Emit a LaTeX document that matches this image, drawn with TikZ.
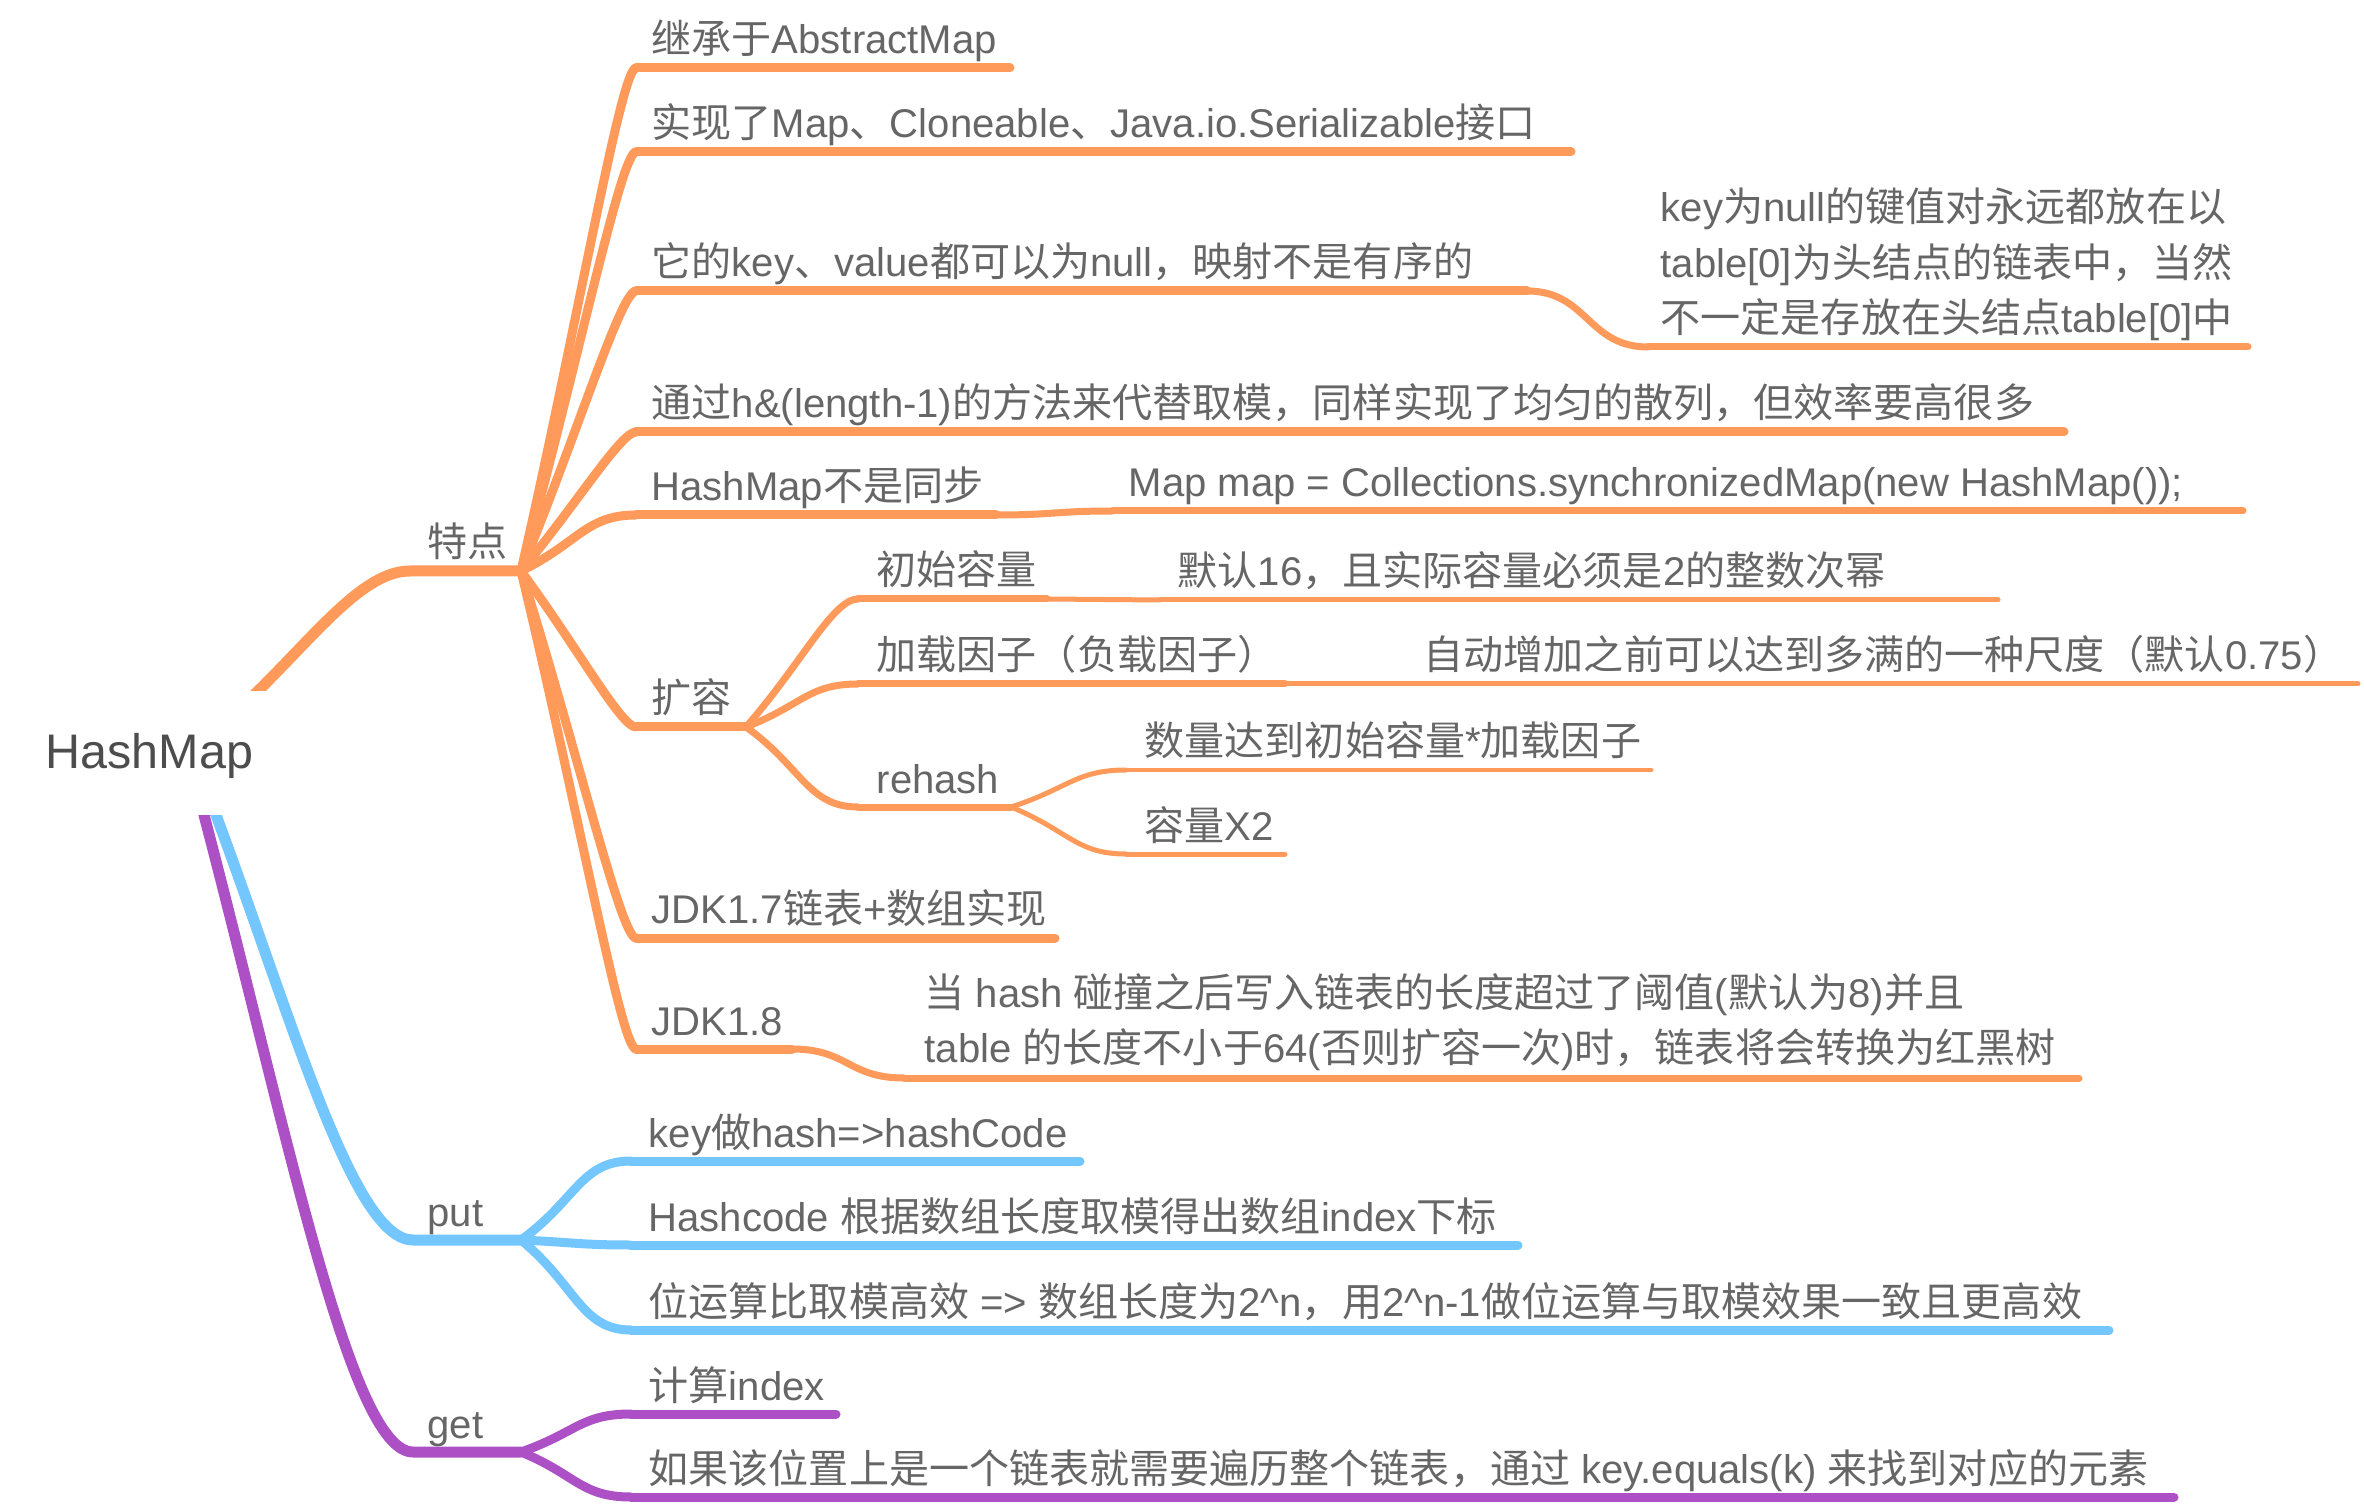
\documentclass[tikz,border=0pt]{standalone}
\usepackage{fontspec}
\setmainfont{Liberation Sans}
\newfontfamily\cjkf{Noto Sans CJK SC}
\usetikzlibrary{calc}
% switch to the CJK font automatically for CJK characters
\chardef\cjkcls=200
\count255="2E80
\loop\XeTeXcharclass\count255=\cjkcls\relax\advance\count255 by 1\relax\ifnum\count255<"A000 \repeat
\count255="FF00
\loop\XeTeXcharclass\count255=\cjkcls\relax\advance\count255 by 1\relax\ifnum\count255<"FFF0 \repeat
\newcount\tmpk
\tmpk=0
\loop\XeTeXinterchartoks\tmpk\cjkcls={\cjkf}\XeTeXinterchartoks\cjkcls\tmpk={\rmfamily}\advance\tmpk by 1\relax\ifnum\tmpk<20 \repeat
\XeTeXinterchartoks 4095 \cjkcls={\cjkf}
\XeTeXinterchartoks \cjkcls 4095={\rmfamily}
\XeTeXinterchartokenstate=1
\definecolor{oc}{HTML}{FF9A5B}
\definecolor{bc}{HTML}{73C6FE}
\definecolor{pc}{HTML}{AD50C5}
\definecolor{tx}{HTML}{666666}
\definecolor{rt}{HTML}{4D4D4D}
\newcommand\fanto[4][15]{\draw[#2] (#3) .. controls ($(#3)!0.5!(#4)$) and ($(#4)+(-#1,0)$) .. (#4);}
\newcommand\sconn[3]{\draw[#1] let \p1=(#2), \p2=(#3) in (#2) .. controls ({0.5*\x1+0.5*\x2},\y1) and ({0.5*\x1+0.5*\x2},\y2) .. (#3);}
\begin{document}
\begin{tikzpicture}[x=0.1mm,y=-0.1mm,
  txt/.style={anchor=base west, inner sep=0pt, text=tx, font=\fontsize{11.4}{13}\selectfont},
  L0/.style={line width=1.1mm, line cap=round},
  L1/.style={line width=0.9mm, line cap=round},
  L2/.style={line width=0.7mm, line cap=round},
  L3/.style={line width=0.5mm, line cap=round}]
\useasboundingbox (0,0) rectangle (2364,1506);
% ---------- coordinates ----------
\coordinate (ro) at (258,691);  \coordinate (rc1) at (410,571);  \coordinate (bp1) at (521,571);
\coordinate (rb) at (216,815);  \coordinate (rc2) at (413,1240); \coordinate (bp2) at (521,1240);
\coordinate (rp) at (204,815);  \coordinate (rc3) at (413,1452); \coordinate (bp3) at (521,1452);
\coordinate (s1) at (636,68);   \coordinate (e1) at (1010,68);
\coordinate (s2) at (636,152);  \coordinate (e2) at (1571,152);
\coordinate (s3) at (636,291);  \coordinate (e3) at (1527,291);
\coordinate (s3a) at (1648,347); \coordinate (e3a) at (2248,347);
\coordinate (s4) at (636,432);  \coordinate (e4) at (2064,432);
\coordinate (s5) at (636,515);  \coordinate (e5) at (996,515);
\coordinate (s5a) at (1113,511); \coordinate (e5a) at (2243,511);
\coordinate (s6) at (636,727);  \coordinate (bp6) at (746,727);
\coordinate (s61) at (858,599); \coordinate (e61) at (1047,599);
\coordinate (s61a) at (1160,600); \coordinate (e61a) at (1998,600);
\coordinate (s62) at (858,684); \coordinate (e62) at (1285,684);
\coordinate (s62a) at (1405,684); \coordinate (e62a) at (2358,684);
\coordinate (s63) at (858,807); \coordinate (bp63) at (1011,807);
\coordinate (s631) at (1126,770); \coordinate (e631) at (1651,770);
\coordinate (s632) at (1126,854); \coordinate (e632) at (1285,854);
\coordinate (s7) at (636,938);  \coordinate (e7) at (1055,938);
\coordinate (s8) at (636,1049); \coordinate (e8) at (792,1049);
\coordinate (s8a) at (904,1078); \coordinate (e8a) at (2079,1078);
\coordinate (p1s) at (631,1161); \coordinate (p1e) at (1080,1161);
\coordinate (p2s) at (631,1245); \coordinate (p2e) at (1518,1245);
\coordinate (p3s) at (631,1330); \coordinate (p3e) at (2109,1330);
\coordinate (g1s) at (631,1414); \coordinate (g1e) at (836,1414);
\coordinate (g2s) at (631,1497); \coordinate (g2e) at (2174,1497);
% ---------- root branches ----------
\begin{scope}
  \clip (0,0) rectangle (2364,691);
  \draw[L0,oc] ($(ro)+(-12,12)$) -- (ro) .. controls (318.8,631) and (364.4,571) .. (rc1) -- (bp1);
\end{scope}
\begin{scope}
  \clip (0,815) rectangle (2364,1506);
  \draw[L0,pc] ($(rp)+(-5.1,-19.3)$) -- (rp) .. controls (287.6,1133.5) and (350.3,1452) .. (rc3) -- (bp3);
  \draw[L0,bc] ($(rb)+(-8,-21.6)$) -- (rb) .. controls (294.8,1027.5) and (353.9,1240) .. (rc2) -- (bp2);
\end{scope}
% ---------- 特点 ----------
\fanto{L1,oc}{bp1}{s1} \draw[L1,oc] (s1) -- (e1);
\fanto{L1,oc}{bp1}{s2} \draw[L1,oc] (s2) -- (e2);
\fanto{L1,oc}{bp1}{s3} \draw[L1,oc] (s3) -- (e3);
\sconn{L2,oc}{e3}{s3a} \draw[L2,oc] (s3a) -- (e3a);
\fanto{L1,oc}{bp1}{s4} \draw[L1,oc] (s4) -- (e4);
\fanto[50]{L1,oc}{bp1}{s5} \draw[L1,oc] (s5) -- (e5);
\sconn{L2,oc}{e5}{s5a} \draw[L2,oc] (s5a) -- (e5a);
\fanto{L1,oc}{bp1}{s6} \draw[L1,oc] (s6) -- (bp6);
\fanto[25]{L2,oc}{bp6}{s61} \draw[L2,oc] (s61) -- (e61);
\sconn{L3,oc}{e61}{s61a} \draw[L3,oc] (s61a) -- (e61a);
\fanto[50]{L2,oc}{bp6}{s62} \draw[L2,oc] (s62) -- (e62);
\sconn{L3,oc}{e62}{s62a} \draw[L3,oc] (s62a) -- (e62a);
\fanto[50]{L2,oc}{bp6}{s63} \draw[L2,oc] (s63) -- (bp63);
\fanto[50]{L3,oc}{bp63}{s631} \draw[L3,oc] (s631) -- (e631);
\fanto[50]{L3,oc}{bp63}{s632} \draw[L3,oc] (s632) -- (e632);
\fanto{L1,oc}{bp1}{s7} \draw[L1,oc] (s7) -- (e7);
\fanto{L1,oc}{bp1}{s8} \draw[L1,oc] (s8) -- (e8);
\sconn{L2,oc}{e8}{s8a} \draw[L2,oc] (s8a) -- (e8a);
% ---------- put ----------
\fanto[50]{L1,bc}{bp2}{p1s} \draw[L1,bc] (p1s) -- (p1e);
\fanto[50]{L1,bc}{bp2}{p2s} \draw[L1,bc] (p2s) -- (p2e);
\fanto[50]{L1,bc}{bp2}{p3s} \draw[L1,bc] (p3s) -- (p3e);
% ---------- get ----------
\fanto[50]{L1,pc}{bp3}{g1s} \draw[L1,pc] (g1s) -- (g1e);
\fanto[50]{L1,pc}{bp3}{g2s} \draw[L1,pc] (g2s) -- (g2e);
% ---------- texts ----------
\node[anchor=base west, inner sep=0pt, text=rt, font=\fontsize{13.8}{16}\selectfont] (root) at (45,769) {HashMap};
\node[txt] (tedian) at (427,557) {特点};
\node[txt] (put) at (427,1226) {put};
\node[txt] (get) at (427,1438) {get};
\node[txt] (t1) at (651,54) {继承于AbstractMap};
\node[txt] (t2) at (651,138) {实现了Map、Cloneable、Java.io.Serializable接口};
\node[txt] (t3) at (651,277) {它的key、value都可以为null，映射不是有序的};
\node[txt] (t3a1) at (1660,222) {key为null的键值对永远都放在以};
\node[txt] (t3a2) at (1660,278) {table[0]为头结点的链表中，当然};
\node[txt] (t3a3) at (1660,333) {不一定是存放在头结点table[0]中};
\node[txt] (t4) at (651,418) {通过h\&(length-1)的方法来代替取模，同样实现了均匀的散列，但效率要高很多};
\node[txt] (t5) at (651,501) {HashMap不是同步};
\node[txt] (t5a) at (1128,497) {Map map = Collections.synchronizedMap(new HashMap());};
\node[txt] (t6) at (651,713) {扩容};
\node[txt] (t61) at (876,585) {初始容量};
\node[txt] (t61a) at (1177,586) {默认16，且实际容量必须是2的整数次幂};
\node[txt] (t62) at (876,670) {加载因子（负载因子）};
\node[txt] (t62a) at (1423,670) {自动增加之前可以达到多满的一种尺度（默认0.75）};
\node[txt] (t63) at (876,793) {rehash};
\node[txt] (t631) at (1144,756) {数量达到初始容量*加载因子};
\node[txt] (t632) at (1144,840) {容量X2};
\node[txt] (t7) at (651,924) {JDK1.7链表+数组实现};
\node[txt] (t8) at (651,1035) {JDK1.8};
\node[txt] (t8a1) at (924,1007) {当 hash 碰撞之后写入链表的长度超过了阈值(默认为8)并且};
\node[txt] (t8a2) at (924,1062) {table 的长度不小于64(否则扩容一次)时，链表将会转换为红黑树};
\node[txt] (tp1) at (648,1147) {key做hash=>hashCode};
\node[txt] (tp2) at (648,1231) {Hashcode 根据数组长度取模得出数组index下标};
\node[txt] (tp3) at (648,1316) {位运算比取模高效 => 数组长度为2\textasciicircum n，用2\textasciicircum n-1做位运算与取模效果一致且更高效};
\node[txt] (tg1) at (648,1400) {计算index};
\node[txt] (tg2) at (648,1483) {如果该位置上是一个链表就需要遍历整个链表，通过 key.equals(k) 来找到对应的元素};
\end{tikzpicture}
\end{document}
